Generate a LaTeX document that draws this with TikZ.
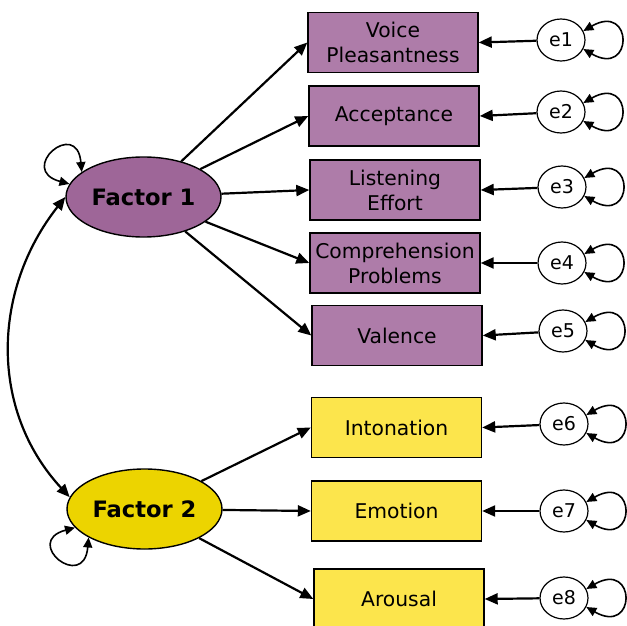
\documentclass[tikz,border=0pt]{standalone}
\usepackage{fontspec}
\setmainfont{DejaVu Sans}
\usepackage{xcolor}
\usetikzlibrary{arrows.meta,shapes.geometric}
\definecolor{itempurple}{RGB}{174,124,169}
\definecolor{factorpurple}{RGB}{158,102,152}
\definecolor{itemyellow}{RGB}{252,229,76}
\definecolor{factoryellow}{RGB}{236,212,0}
\tikzset{
  item/.style={draw=black, line width=1.4pt, minimum width=170pt, minimum height=60pt,
    inner sep=0pt, align=center, font=\fontsize{20.3}{25}\selectfont},
  factor/.style={ellipse, draw=black, line width=1.4pt, minimum width=155pt, minimum height=80pt,
    inner sep=0pt, font=\fontsize{22.6}{26}\selectfont\bfseries},
  err/.style={ellipse, draw=black, fill=white, line width=1.2pt, minimum width=48pt,
    minimum height=42pt, inner sep=0pt, font=\fontsize{19}{22}\selectfont},
  load/.style={-{Triangle[length=13pt,width=11pt]}, line width=2.2pt},
  covar/.style={{Triangle[length=13pt,width=11pt]}-{Triangle[length=13pt,width=11pt]}, line width=2.2pt},
  selfvar/.style={{Triangle[length=10pt,width=9pt]}-{Triangle[length=10pt,width=9pt]}, line width=1.6pt},
}
\begin{document}
\begin{tikzpicture}[x=1pt,y=1pt]
        \useasboundingbox (0,0) rectangle (627,-626);
        % latent factors
        \node[factor, fill=factorpurple] (f1) at (143.5,-197) {Factor 1};
        \node[factor, fill=factoryellow] (f2) at (144.5,-509) {Factor 2};
        % observed items
        \node[item, fill=itempurple] (voice) at (393,-42.5) {Voice\\Pleasantness};
        \node[item, fill=itempurple] (accept) at (394,-116) {Acceptance};
        \node[item, fill=itempurple] (listen) at (395,-190) {Listening\\Effort};
        \node[item, fill=itempurple] (compr) at (395,-263) {Comprehension\\Problems};
        \node[item, fill=itempurple] (valence) at (397,-335.5) {Valence};
        \node[item, fill=itemyellow] (inton) at (396.5,-427.5) {Intonation};
        \node[item, fill=itemyellow] (emotion) at (396.5,-511) {Emotion};
        \node[item, fill=itemyellow] (arousal) at (399,-599) {Arousal};
        % error terms
        \node[err] (e1) at (561,-40) {e1};
        \node[err] (e2) at (561,-112) {e2};
        \node[err] (e3) at (562,-187) {e3};
        \node[err] (e4) at (562,-263) {e4};
        \node[err] (e5) at (563,-331) {e5};
        \node[err] (e6) at (564,-424) {e6};
        \node[err] (e7) at (564,-511) {e7};
        \node[err] (e8) at (564,-598) {e8};
        % loadings
        \draw[load] (f1) -- (voice.west);
        \draw[load] (f1) -- (accept.west);
        \draw[load] (f1) -- (listen.west);
        \draw[load] (f1) -- (compr.west);
        \draw[load] (f1) -- (valence.west);
        \draw[load] (f2) -- (inton.west);
        \draw[load] (f2) -- (emotion.west);
        \draw[load] (f2) -- (arousal.west);
        % errors to items
        \foreach \e/\it in {e1/voice,e2/accept,e3/listen,e4/compr,e5/valence,e6/inton,e7/emotion,e8/arousal}{
          \draw[load] (\e) -- (\it.east);
          \draw[selfvar] (\e.22) to[out=30,in=-30,min distance=58pt] (\e.-22);
        }
        % variances and covariance
        \draw[selfvar] (f1.158) to[out=95,in=165,min distance=55pt] (f1.170);
        \draw[selfvar] (f2.195) to[out=195,in=265,min distance=55pt] (f2.207);
        \draw[covar] (f1.180) .. controls (-8,-290) and (-11,-410) .. (f2.171);
      \end{tikzpicture}
\end{document}
